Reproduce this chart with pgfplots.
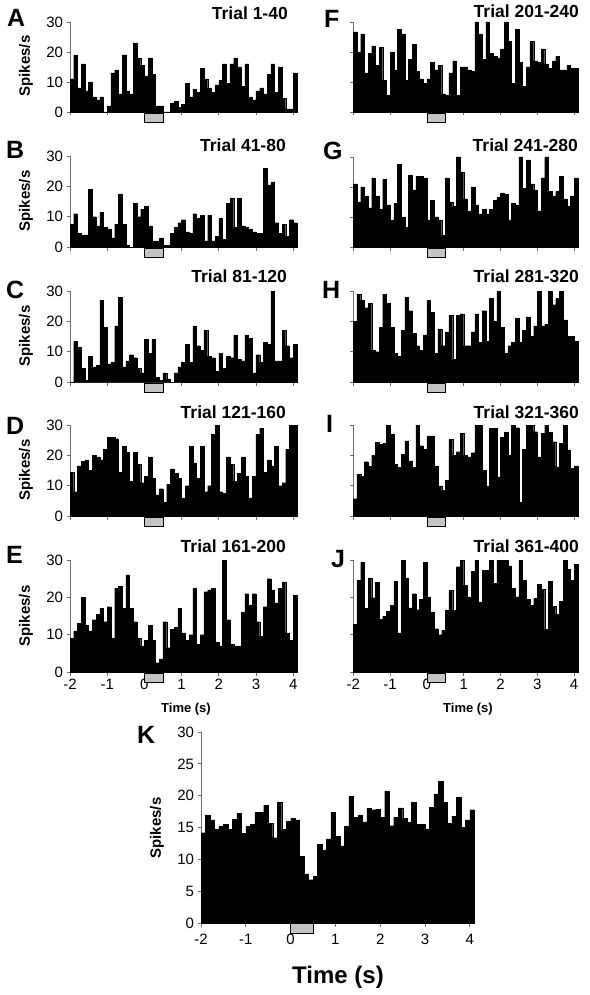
\documentclass[border=0pt]{standalone}
\usepackage{fontspec}
\setmainfont{Liberation Sans}
\usepackage{pgfplots}
\pgfplotsset{compat=1.18}
\usepackage{pgfplotstable}
\definecolor{boxgray}{RGB}{196,196,196}
\definecolor{axgray}{RGB}{110,110,110}

\pgfplotstableread[row sep=\\]{y\\11\\19\\8\\16\\7\\10\\5\\4\\5\\0\\2\\13\\14\\6\\19\\7\\6\\23\\18\\15.5\\12\\18\\12.5\\2\\2\\0\\0\\3\\3.5\\1.5\\2.5\\9.5\\5\\7.5\\6.5\\14.5\\11\\8\\6.5\\9\\10.5\\16\\9.5\\16\\18\\15\\8.5\\16\\5\\4\\7\\8\\6\\12.5\\16\\6.5\\15\\4.5\\1\\1\\13\\13\\}\tabA
\pgfplotstableread[row sep=\\]{y\\7.5\\11\\4.5\\4\\4\\19\\10\\7\\11.5\\6.5\\6\\3\\7.5\\17.5\\7.5\\0.5\\0\\14.5\\10\\12.5\\13.5\\7\\2\\2\\3\\0.5\\0.5\\4.5\\6.5\\8\\9\\5\\4.5\\11\\9.5\\10.5\\2\\10.5\\2\\3.5\\9.5\\2.5\\14.5\\16\\6.5\\16\\7\\6.5\\6\\5\\4.5\\4.5\\26\\20.5\\21.5\\8\\4.5\\7.5\\3.5\\9\\8\\8\\}\tabB
\pgfplotstableread[row sep=\\]{y\\0\\13.5\\11.5\\4.5\\0.5\\8.5\\5\\5.5\\27\\18\\6\\6.5\\18.5\\28\\5\\7\\9\\8\\4.5\\3\\14\\9.5\\14\\1.5\\0.5\\3\\1\\0\\3\\5\\6.5\\12.5\\6.5\\18.5\\12\\10.5\\17\\8.5\\8\\3.5\\9.5\\4.5\\8.5\\8\\15.5\\7.5\\7\\15.5\\14.5\\3\\9\\6.5\\13\\12.5\\30\\7\\7\\17\\12\\8\\12.5\\12.5\\}\tabC
\pgfplotstableread[row sep=\\]{y\\14.5\\8\\16.5\\18\\18.5\\15\\20\\19.5\\18.5\\22\\26\\26\\25.5\\14.5\\23\\21\\11.5\\21\\17\\11\\13\\19.5\\12.5\\7\\9\\4.5\\10.5\\15.5\\14\\12.5\\6\\10\\23\\17.5\\12.5\\23\\8\\10\\27\\30\\8\\7.5\\19.5\\17\\11.5\\14\\19.5\\13\\6\\13\\27\\29\\14.5\\18.5\\16.5\\23\\10\\11\\22\\30\\30\\30\\}\tabD
\pgfplotstableread[row sep=\\]{y\\9\\11\\13\\20\\12.5\\11\\14\\15.5\\17\\13.5\\17.5\\9\\22.5\\23\\17\\26\\17\\13.5\\9\\7\\8.5\\12.5\\8.5\\2.5\\3.5\\13.5\\6.5\\11.5\\12\\17\\10.5\\8.5\\10\\22.5\\7.5\\10\\21.5\\22\\22.5\\8\\7\\30\\14\\7.5\\7\\7\\16\\21\\18\\21\\13.5\\9.5\\17.5\\25\\22\\18.5\\22.5\\24\\10.5\\8.5\\20.5\\20.5\\}\tabE
\pgfplotstableread[row sep=\\]{y\\26.7\\20\\26\\13\\19.5\\22\\15.5\\21.5\\10.5\\5.5\\20\\14\\27.5\\26\\10.5\\17.5\\22.5\\13.5\\11\\9.5\\11\\16.5\\14\\15.5\\6\\5.5\\13\\17\\5.5\\15\\15\\14\\13.5\\30\\26\\17.5\\30\\19.5\\18.5\\18\\21\\30\\23.5\\9.5\\27.5\\16.5\\8.5\\15\\23.5\\17\\16.5\\21\\16\\14.5\\17\\18.5\\14\\14\\15.5\\14.5\\14.5\\14.5\\}\tabF
\pgfplotstableread[row sep=\\]{y\\21\\15\\20\\17\\13\\23\\17\\12.5\\22.5\\14\\9\\14.5\\27.5\\10\\6.5\\24\\19\\23.5\\23.5\\23\\9\\15.5\\10\\9\\4\\23\\15\\13.5\\30\\25\\16\\12\\20\\14\\11\\12.5\\11\\12.5\\15.5\\16.5\\18\\17.5\\9\\14.5\\14\\30\\19.5\\29\\21\\19\\12\\23\\30\\18.5\\17\\18.5\\23.5\\16\\13.5\\17\\23\\23\\}\tabG
\pgfplotstableread[row sep=\\]{y\\20\\29\\27\\24.5\\26\\10.5\\10\\18\\29\\26\\18\\9.5\\8.5\\17\\28\\23.5\\16\\12\\10.5\\15.5\\27\\23\\9.5\\17.5\\12\\16.5\\22\\7.5\\22\\22.5\\12\\12\\16.5\\22.5\\13\\23.5\\13.5\\27.5\\20\\30\\18\\9.5\\12\\13\\21\\13\\17\\21.5\\15\\18.5\\30\\18.5\\19\\30\\25.5\\27.5\\30\\20.5\\15\\15\\13.5\\13.5\\}\tabH
\pgfplotstableread[row sep=\\]{y\\5.7\\13.8\\13.1\\17.9\\16.4\\20.1\\24.3\\23.7\\23.9\\30\\27\\17\\16\\20.4\\24.8\\18.2\\16\\30\\23.2\\21.9\\26.4\\26.4\\16.5\\9.9\\8.5\\11.7\\25.2\\20.1\\21.2\\27.2\\20.1\\19.5\\20.9\\30\\30\\15.1\\9.9\\28.9\\28.9\\12.9\\25.9\\27.6\\20.1\\30\\29.1\\4.6\\22\\30\\30\\27.8\\19.5\\27.2\\30\\27.6\\24.5\\16.2\\23.9\\30\\21.7\\15.7\\16.5\\16.5\\}\tabI
\pgfplotstableread[row sep=\\]{y\\12.7\\24.6\\29.4\\17\\25.2\\19.9\\24\\14.1\\15\\16.3\\17.9\\24.3\\10.5\\30\\25.2\\17.2\\21\\16.7\\19.5\\29.4\\20.1\\16.1\\11.6\\10\\11.2\\16.6\\21.9\\16.6\\28.2\\30\\23.3\\20.1\\26.9\\30\\18.8\\27.3\\27.3\\30\\23.7\\30\\30\\30\\28.4\\22.4\\20.1\\30\\24.6\\19.4\\17.9\\19.7\\23.5\\22.1\\11.5\\24.3\\17.6\\15.5\\19\\30\\27.5\\24.6\\28.8\\28.8\\}\tabJ
\pgfplotstableread[row sep=\\]{y\\14.2\\17\\16.2\\14.8\\15.2\\15.5\\14.7\\16.3\\17.2\\14.1\\15.2\\15.5\\17.4\\17.4\\18.5\\15.7\\13.4\\19\\14.7\\16\\16.4\\16.2\\10.5\\7.7\\6.8\\7.3\\12.4\\11.5\\13.2\\17.4\\13.6\\12.1\\15.2\\19.9\\16.6\\17\\15.9\\18\\17.8\\17.9\\16.6\\20.7\\15.3\\16.6\\18.1\\16.4\\15.8\\19\\15.5\\15.5\\14.8\\18.2\\20.3\\22.3\\19\\15.7\\16.8\\19.7\\15\\16.2\\17.8\\17.8\\}\tabK

\pgfplotsset{
  psth/.style={
    scale only axis,
    anchor=south west,
    xmin=-2, xmax=4.1, ymin=0, ymax=30,
    axis x line*=bottom, axis y line*=left,
    axis line style={draw=axgray, line width=0.7pt},
    every tick/.style={draw=axgray, line width=0.7pt},
    tick align=outside,
    major tick length=3.5pt,
    xtick={-2,-1,0,1,2,3,4},
    ytick={0,10,20,30},
    clip=false,
    tick label style={font=\fontsize{15}{17}\selectfont},
    /pgf/number format/assume math mode=true,
  },
}
\newcommand{\psth}[1]{\addplot[const plot mark left, fill=black, draw=black, line width=0.2pt] table[x expr={-2+0.1*\coordindex}, y=y] {#1} \closedcycle;}
\newcommand{\stimbox}[2]{\addplot[fill=boxgray, draw=black, line width=0.7pt] coordinates {(0,#1) (0.5,#1) (0.5,#2) (0,#2)} -- cycle;}
\newcommand{\lett}{\fontsize{25}{28}\selectfont\bfseries}
\newcommand{\ttl}{\fontsize{17.5}{20}\selectfont\bfseries}
\newcommand{\ylab}{\fontsize{15}{17}\selectfont\bfseries}

\begin{document}
\begin{tikzpicture}
\path[use as bounding box] (0pt,0pt) rectangle (589pt,-995pt);
% left column
\begin{axis}[psth, at={(70pt,-112pt)}, width=226.9pt, height=90pt, xticklabels={}]
\psth{\tabA}
\stimbox{-0.3}{-3.4}
\end{axis}
\begin{axis}[psth, at={(70pt,-247pt)}, width=226.9pt, height=91pt, xticklabels={}]
\psth{\tabB}
\stimbox{-0.3}{-3.4}
\end{axis}
\begin{axis}[psth, at={(70pt,-382pt)}, width=226.9pt, height=91pt, xticklabels={}]
\psth{\tabC}
\stimbox{-0.3}{-3.4}
\end{axis}
\begin{axis}[psth, at={(70pt,-516pt)}, width=226.9pt, height=91pt, xticklabels={}]
\psth{\tabD}
\stimbox{-0.3}{-3.4}
\end{axis}
\begin{axis}[psth, at={(70pt,-672pt)}, width=226.9pt, height=112pt]
\psth{\tabE}
\stimbox{-0.27}{-2.7}
\end{axis}
% right column
\begin{axis}[psth, at={(353.3pt,-112pt)}, width=224.5pt, height=90pt, xticklabels={}, yticklabels={}]
\psth{\tabF}
\stimbox{-0.3}{-3.4}
\end{axis}
\begin{axis}[psth, at={(353.3pt,-247pt)}, width=224.5pt, height=90pt, xticklabels={}, yticklabels={}]
\psth{\tabG}
\stimbox{-0.3}{-3.4}
\end{axis}
\begin{axis}[psth, at={(353.3pt,-382pt)}, width=224.5pt, height=91pt, xticklabels={}, yticklabels={}]
\psth{\tabH}
\stimbox{-0.3}{-3.4}
\end{axis}
\begin{axis}[psth, at={(353.3pt,-516pt)}, width=224.5pt, height=91pt, xticklabels={}, yticklabels={}]
\psth{\tabI}
\stimbox{-0.3}{-3.4}
\end{axis}
\begin{axis}[psth, at={(353.3pt,-672pt)}, width=224.5pt, height=112pt, yticklabels={}]
\psth{\tabJ}
\stimbox{-0.27}{-2.7}
\end{axis}
% bottom panel K
\begin{axis}[psth, at={(201pt,-923pt)}, width=273.3pt, height=191pt,
  ytick={0,5,10,15,20,25,30},
  xticklabel style={yshift=-4pt}]
\psth{\tabK}
\stimbox{-0.05}{-1.55}
\end{axis}
% panel letters
\node[anchor=base west, inner sep=0pt, font=\lett] at (7pt,-27pt) {A};
\node[anchor=base west, inner sep=0pt, font=\lett] at (6pt,-159pt) {B};
\node[anchor=base west, inner sep=0pt, font=\lett] at (6pt,-298pt) {C};
\node[anchor=base west, inner sep=0pt, font=\lett] at (6pt,-434pt) {D};
\node[anchor=base west, inner sep=0pt, font=\lett] at (6pt,-563pt) {E};
\node[anchor=base west, inner sep=0pt, font=\lett] at (324pt,-28pt) {F};
\node[anchor=base west, inner sep=0pt, font=\lett] at (323pt,-160pt) {G};
\node[anchor=base west, inner sep=0pt, font=\lett] at (322pt,-298pt) {H};
\node[anchor=base west, inner sep=0pt, font=\lett] at (326pt,-432pt) {I};
\node[anchor=base west, inner sep=0pt, font=\lett] at (331pt,-567pt) {J};
\node[anchor=base west, inner sep=0pt, font=\lett] at (137pt,-743pt) {K};
% titles
\node[anchor=base east, inner sep=0pt, font=\ttl] at (288pt,-20pt) {Trial 1-40};
\node[anchor=base east, inner sep=0pt, font=\ttl] at (286pt,-152pt) {Trial 41-80};
\node[anchor=base east, inner sep=0pt, font=\ttl] at (287pt,-282pt) {Trial 81-120};
\node[anchor=base east, inner sep=0pt, font=\ttl] at (286pt,-418pt) {Trial 121-160};
\node[anchor=base east, inner sep=0pt, font=\ttl] at (286pt,-552pt) {Trial 161-200};
\node[anchor=base east, inner sep=0pt, font=\ttl] at (579pt,-18pt) {Trial 201-240};
\node[anchor=base east, inner sep=0pt, font=\ttl] at (578pt,-152pt) {Trial 241-280};
\node[anchor=base east, inner sep=0pt, font=\ttl] at (579pt,-282pt) {Trial 281-320};
\node[anchor=base east, inner sep=0pt, font=\ttl] at (579pt,-418pt) {Trial 321-360};
\node[anchor=base east, inner sep=0pt, font=\ttl] at (579pt,-552pt) {Trial 361-400};
% y labels
\node[rotate=90, inner sep=0pt, font=\ylab] at (26pt,-66pt) {Spikes/s};
\node[rotate=90, inner sep=0pt, font=\ylab] at (26pt,-201pt) {Spikes/s};
\node[rotate=90, inner sep=0pt, font=\ylab] at (26pt,-336pt) {Spikes/s};
\node[rotate=90, inner sep=0pt, font=\ylab] at (26pt,-470pt) {Spikes/s};
\node[rotate=90, inner sep=0pt, font=\ylab] at (26pt,-616pt) {Spikes/s};
\node[rotate=90, inner sep=0pt, font=\ylab] at (157pt,-828pt) {Spikes/s};
% time labels
\node[anchor=base, inner sep=0pt, font=\fontsize{13}{15}\selectfont\bfseries] at (186pt,-712pt) {Time (s)};
\node[anchor=base, inner sep=0pt, font=\fontsize{13}{15}\selectfont\bfseries] at (468pt,-712pt) {Time (s)};
\node[anchor=base, inner sep=0pt, font=\fontsize{24}{28}\selectfont\bfseries] at (338pt,-983pt) {Time (s)};
\end{tikzpicture}
\end{document}
